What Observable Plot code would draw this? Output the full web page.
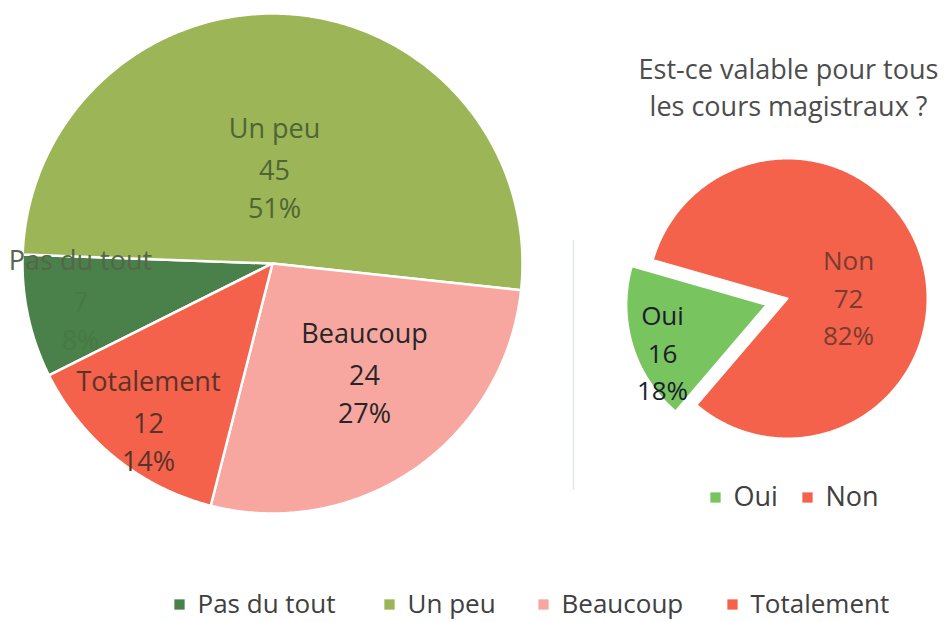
<!DOCTYPE html>
<html><head><meta charset="utf-8">
<script src="https://cdn.jsdelivr.net/npm/d3@7"></script>
<script src="https://cdn.jsdelivr.net/npm/@observablehq/plot@0.6"></script>
<style>body{margin:0;background:#fff;} svg{display:block}</style>
</head><body><div id="chart"></div>
<script>
// ---- data ----
const leftCategories = ["Pas du tout", "Un peu", "Beaucoup", "Totalement"];
const leftValues = [7, 45, 24, 12];
const leftPercents = ["8%", "51%", "27%", "14%"];
const rightCategories = ["Oui", "Non"];
const rightValues = [16, 72];
const rightPercents = ["18%", "82%"];
const titleLines = ["Est-ce valable pour tous", "les cours magistraux ?"];

// ---- styles / layout ----
const colorRange = ["#4a8049", "#9cb556", "#f8a7a0", "#f4624b", "#78c45e", "#f4624b"];
const leftPie = {cx: 272, cy: 263, r: 250, start: 243.4};
const rightPie = {cx: 787, cy: 298, r: 140, start: 220.5, explode: "Oui", dist: 22};
const leftLabelOffset = [[-192, 36], [2, -96], [92, 109], [-124, 157]];
const leftNameColor = ["#56664a", "#4e6535", "#262626", "#5a3328"];
const leftValueColor = ["#467a44", "#4e6535", "#262626", "#5a3328"];
const rightLabelOffset = [[-125, 52], [61, -3]];
const rightLabelColor = ["#1c1c30", "#7a3c2e"];
const bottomLegendX = [179, 389, 543, 732];
const rightLegendX = [715, 807];

function slicePoints(cats, vals, p) {
  const total = d3.sum(vals);
  let a = p.start;
  const pts = [];
  cats.forEach((c, i) => {
    const sweep = vals[i] / total * 360;
    const mid = (a + sweep / 2) * Math.PI / 180;
    const off = c === p.explode ? p.dist : 0;
    const ox = p.cx + off * Math.sin(mid), oy = p.cy - off * Math.cos(mid);
    pts.push({cat: c, x: ox, y: oy});
    const n = Math.max(2, Math.ceil(sweep * 2));
    for (let k = 0; k <= n; k++) {
      const t = (a + sweep * k / n) * Math.PI / 180;
      pts.push({cat: c, x: ox + p.r * Math.sin(t), y: oy - p.r * Math.cos(t)});
    }
    pts.push({cat: c, x: ox, y: oy});
    a += sweep;
  });
  return pts;
}

const leftPts = slicePoints(leftCategories, leftValues, leftPie);
const rightPts = slicePoints(rightCategories, rightValues, rightPie);

const LH = 38;
const leftNames = leftCategories.map((c, i) => ({
  text: c, x: leftPie.cx + leftLabelOffset[i][0], y: leftPie.cy + leftLabelOffset[i][1] - LH, fill: leftNameColor[i]
}));
const leftNums = leftCategories.map((c, i) => ({
  text: `${leftValues[i]}\n${leftPercents[i]}`,
  x: leftPie.cx + leftLabelOffset[i][0], y: leftPie.cy + leftLabelOffset[i][1] + LH / 2, fill: leftValueColor[i]
}));
const rightLabels = rightCategories.map((c, i) => ({
  text: `${c}\n${rightValues[i]}\n${rightPercents[i]}`,
  x: rightPie.cx + rightLabelOffset[i][0], y: rightPie.cy + rightLabelOffset[i][1], fill: rightLabelColor[i]
}));
const bottomLegend = leftCategories.map((c, i) => ({cat: c, x: bottomLegendX[i], y: 604}));
const rightLegend = rightCategories.map((c, i) => ({cat: c, x: rightLegendX[i], y: 497}));
const titles = titleLines.map((t, i) => ({t, x: 788, y: 70 + i * 37}));

const chart = Plot.plot({
  width: 951, height: 622, margin: 0,
  x: {domain: [0, 951], range: [0, 951], axis: null},
  y: {domain: [0, 622], range: [0, 622], axis: null},
  color: {domain: [...leftCategories, ...rightCategories], range: colorRange},
  style: {fontFamily: "'Open Sans', sans-serif", background: "white"},
  marks: [
    Plot.ruleX([573], {y1: 240, y2: 490, stroke: "#dfe7ea", strokeWidth: 1.5}),
    Plot.line(leftPts, {x: "x", y: "y", z: "cat", fill: "cat", stroke: "white", strokeWidth: 2.5, curve: "linear"}),
    Plot.line(rightPts, {x: "x", y: "y", z: "cat", fill: "cat", stroke: "white", strokeWidth: 2, curve: "linear"}),
    Plot.text(leftNames, {x: "x", y: "y", text: "text", fill: d => d.fill, fontSize: 27, textAnchor: "middle"}),
    Plot.text(leftNums, {x: "x", y: "y", text: "text", fill: d => d.fill, fontSize: 27, lineHeight: LH / 27, textAnchor: "middle"}),
    Plot.text(rightLabels, {x: "x", y: "y", text: "text", fill: d => d.fill, fontSize: 26, lineHeight: 1.45, textAnchor: "middle"}),
    Plot.text(titles, {x: "x", y: "y", text: "t", fill: "#4d4d4d", fontSize: 27, textAnchor: "middle"}),
    Plot.dot(bottomLegend, {x: "x", y: "y", fill: "cat", symbol: "square", r: 5.8}),
    Plot.text(bottomLegend, {x: d => d.x + 18, y: "y", text: "cat", fill: "#404040", fontSize: 26, textAnchor: "start"}),
    Plot.dot(rightLegend, {x: "x", y: "y", fill: "cat", symbol: "square", r: 5.8}),
    Plot.text(rightLegend, {x: d => d.x + 18, y: "y", text: "cat", fill: "#404040", fontSize: 27, textAnchor: "start"})
  ]
});
document.getElementById("chart").appendChild(chart);
</script></body></html>
